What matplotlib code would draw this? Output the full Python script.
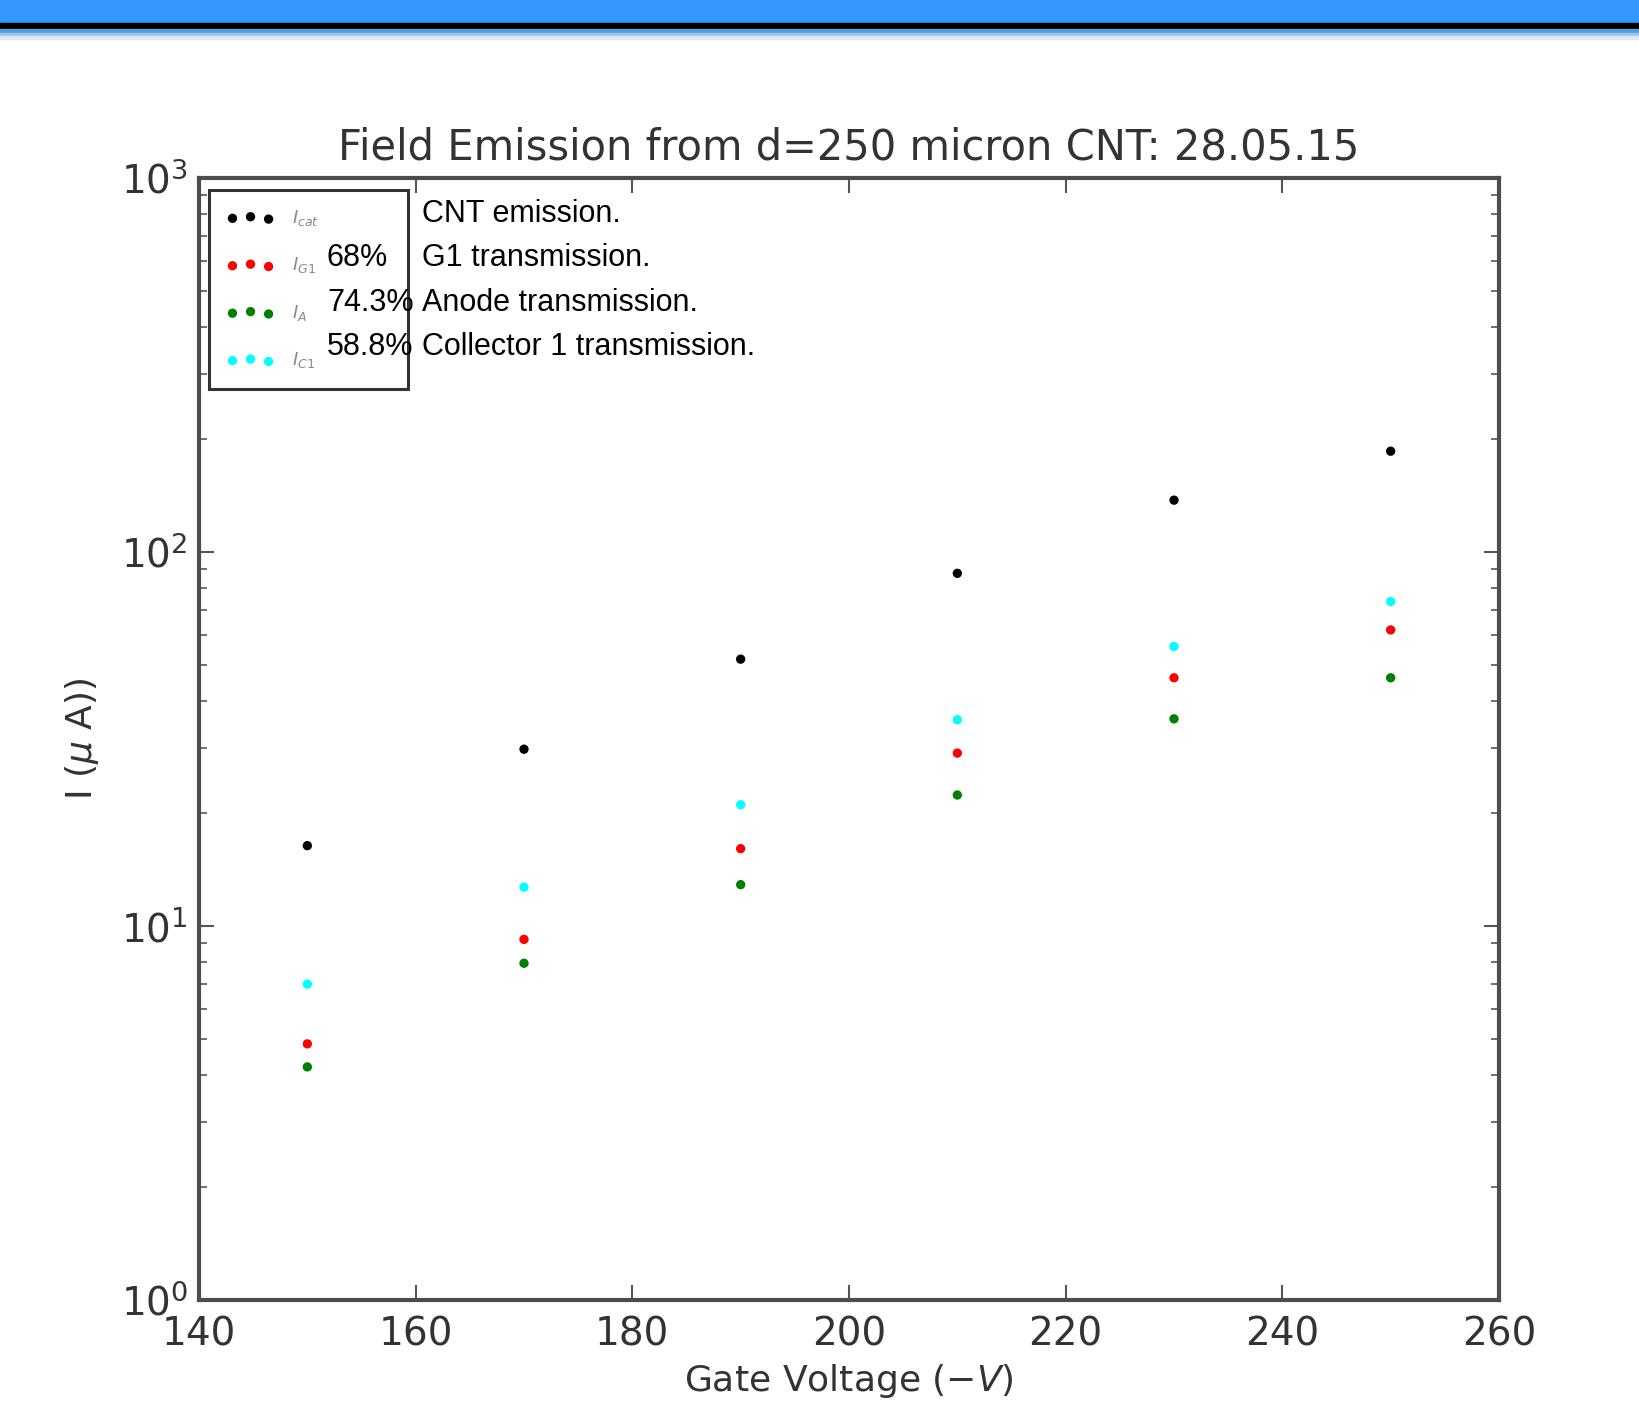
import matplotlib
matplotlib.use("Agg")
import matplotlib.pyplot as plt
from matplotlib.patches import Rectangle
import numpy as np

# ---- data ----
gate_voltage = [150, 170, 190, 210, 230, 250]
I_cat = [16.4, 29.7, 51.7, 87.7, 137.6, 186.0]
I_G1 = [4.84, 9.21, 16.1, 29.0, 46.1, 61.9]
I_A = [4.20, 7.95, 12.9, 22.4, 35.8, 46.1]
I_C1 = [6.99, 12.7, 21.1, 35.6, 55.9, 73.7]
series_labels = [r'$I_{cat}$', r'$I_{G1}$', r'$I_{A}$', r'$I_{C1}$']
series_colors = ['black', 'red', 'green', 'cyan']
percent_texts = ['', '68%', '74.3%', '58.8%']
note_texts = ['CNT emission.', 'G1 transmission.', 'Anode transmission.', 'Collector 1 transmission.']
title = 'Field Emission from d=250 micron CNT: 28.05.15'
xlabel = r'Gate Voltage ($-V$)'
ylabel = r'I ($\mu$ A))'

W, H = 1640, 1402
fig = plt.figure(figsize=(W / 100, H / 100), dpi=100, facecolor='white')

# header banner
def band(y0, y1, color):
    fig.patches.append(Rectangle((0, 1 - y1 / H), 1, (y1 - y0) / H,
                                 transform=fig.transFigure, color=color, zorder=0))
band(0, 23, '#3399ff')
band(23, 29, 'black')
band(29, 33, '#5b9bd8')
band(33, 36, '#9cc3ea')
band(36, 39, '#dde9f7')

AX_L, AX_R, AX_T, AX_B = 199, 1499, 178, 1300
AW, AH = AX_R - AX_L, AX_B - AX_T
ax = fig.add_axes([AX_L / W, 1 - AX_B / H, AW / W, AH / H])

txtc = '#333333'
for ys, lab, col in zip([I_cat, I_G1, I_A, I_C1], series_labels, series_colors):
    ax.scatter(gate_voltage, ys, s=45, c=col, edgecolors='none', label=lab)

ax.set_yscale('log')
ax.set_xlim(140, 260)
ax.set_ylim(1, 1000)
ax.set_xticks([140, 160, 180, 200, 220, 240, 260])

for sp in ax.spines.values():
    sp.set_linewidth(3)
    sp.set_color('#4d4d4d')

ax.tick_params(which='both', direction='in', top=True, right=True, colors='#555555',
               labelcolor=txtc, labelsize=28)
ax.tick_params(which='major', length=11, width=1.5)
ax.tick_params(which='minor', length=6, width=1.2)
ax.tick_params(axis='x', pad=11)
ax.tick_params(axis='y', pad=8)

ax.set_title(title, fontsize=30, color=txtc, pad=13)
ax.set_xlabel(xlabel, fontsize=26, color=txtc, labelpad=6)
ax.set_ylabel(ylabel, fontsize=26, color=txtc, labelpad=14)

# legend (frame drawn separately so it can be wider than its labels)
leg_x0, leg_y0, leg_x1, leg_y1 = 209, 190, 408, 389
leg = ax.legend(loc='upper left', bbox_to_anchor=((leg_x0 - AX_L) / AW, (AX_B - leg_y0) / AH),
                borderaxespad=0, fontsize=13, labelspacing=1.52, handlelength=2.6,
                handletextpad=1.0, borderpad=1.0, frameon=False, scatterpoints=3)
for t in leg.get_texts():
    t.set_color('#8a8a8a')
ax.add_patch(Rectangle(((leg_x0 - AX_L) / AW, (AX_B - leg_y1) / AH),
                       (leg_x1 - leg_x0) / AW, (leg_y1 - leg_y0) / AH,
                       transform=ax.transAxes, fill=False, edgecolor='#333333',
                       linewidth=2.2, zorder=4))

note_font = ['Liberation Sans', 'DejaVu Sans']
rows_y = [214, 258, 303, 347]
for y, p, n in zip(rows_y, percent_texts, note_texts):
    if p:
        fig.text(327 / W, 1 - y / H, p, fontsize=22, family=note_font, va='center', ha='left', color='black')
    fig.text(422 / W, 1 - y / H, n, fontsize=22, family=note_font, va='center', ha='left', color='black')

fig.savefig('out.png', dpi=100, facecolor='white')
